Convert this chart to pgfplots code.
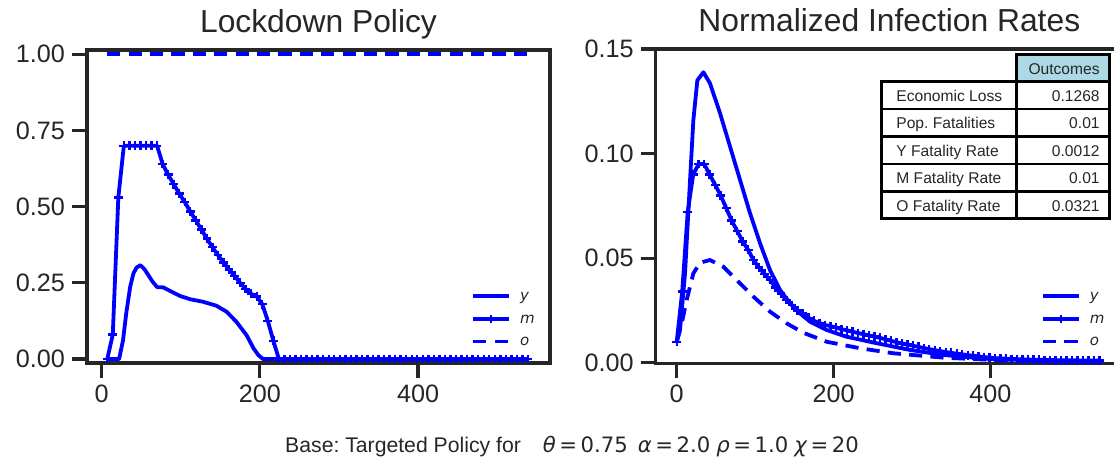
\documentclass[border=0pt]{standalone}
\usepackage{pgfplots}
\pgfplotsset{compat=1.18}
\usepackage{fontspec}
\setmainfont{Liberation Sans}
\newfontfamily\dvs{DejaVu Sans}
\definecolor{axgray}{HTML}{262626}
\definecolor{lblue}{HTML}{ADD8E6}
\frenchspacing
\pgfplotsset{
  myax/.style={
    scale only axis, anchor=south west,
    axis line style={draw=axgray, line width=1.6pt},
    tick align=outside,
    major tick length=7.5pt,
    tick style={draw=axgray, line width=1.6pt},
    xtick pos=left, ytick pos=left,
    tick label style={font=\fontsize{12.6}{15}\selectfont, text=axgray},
    /pgf/number format/assume math mode=true,
    yticklabel style={/pgf/number format/.cd, fixed, fixed zerofill, precision=2},
    xtick={0,200,400},
    title style={font=\fontsize{15.9}{19}\selectfont, text=axgray, anchor=base, at={(0.5,1)}, yshift=3pt},
    legend style={draw=none, fill=none, font=\dvs\itshape\fontsize{7.5}{9}\selectfont, text=axgray,
      inner sep=0pt, row sep=5pt, column sep=3.5pt, anchor=west,
      nodes={inner sep=1pt, text height=4.3pt, text depth=0pt}},
    legend cell align=left,
    legend image code/.code={\draw[mark repeat=2,mark phase=2,#1] plot coordinates {(0pt,0pt) (9pt,0pt) (18pt,0pt)};},
  },
  ys/.style={blue, line width=1.9pt, line join=round},
  ms/.style={blue, line width=1.9pt, line join=round, mark=+, mark size=2.2pt, mark options={solid, line width=1.2pt}},
  os/.style={blue, line width=1.9pt, dash pattern=on 6.6pt off 4.1pt},
}
\begin{document}
\begin{tikzpicture}
\path[use as bounding box, clip] (0,0) rectangle (557pt,228pt);
% ---------------- Left: Lockdown Policy ----------------
\begin{axis}[myax, at={(43.5pt,46.5pt)}, width=231.5pt, height=156.5pt,
  xmin=-18.6, xmax=566.8, ymin=-0.013, ymax=1.014,
  ytick={0,0.25,0.5,0.75,1},
  title={Lockdown Policy},
  legend style={at={(0.829,0.1406)}}]
\addplot[ys] coordinates {(7,0)(22,0)(27,0.062)(31,0.15)(36,0.237)(40,0.28)(44,0.30)(49,0.308)(54,0.295)(59,0.275)(64,0.255)(70,0.236)(78,0.235)(86,0.224)(99,0.207)(112,0.196)(128,0.188)(145,0.175)(158,0.155)(170,0.123)(183,0.079)(192,0.035)(198,0.013)(204,0)(539,0)};
\addlegendentry{y}
\addplot[ms] coordinates {(7,0)(14,0.08)(21,0.53)(28,0.70)(35,0.70)(42,0.70)(49,0.70)(56,0.70)(63,0.70)(70,0.70)(77,0.64)(84,0.605)(91,0.574)(98,0.543)(105,0.515)(112,0.484)(119,0.455)(126,0.425)(133,0.395)(140,0.367)(147,0.341)(154,0.317)(161,0.294)(168,0.273)(175,0.250)(182,0.230)(189,0.214)(196,0.205)(203,0.18)(210,0.125)(217,0.06)(224,0)(231,0)(238,0)(245,0)(252,0)(259,0)(266,0)(273,0)(280,0)(287,0)(294,0)(301,0)(308,0)(315,0)(322,0)(329,0)(336,0)(343,0)(350,0)(357,0)(364,0)(371,0)(378,0)(385,0)(392,0)(399,0)(406,0)(413,0)(420,0)(427,0)(434,0)(441,0)(448,0)(455,0)(462,0)(469,0)(476,0)(483,0)(490,0)(497,0)(504,0)(511,0)(518,0)(525,0)(532,0)(539,0)};
\addlegendentry{m}
\addplot[os] coordinates {(7,1)(539,1)};
\addlegendentry{o}
\end{axis}
% ---------------- Right: Normalized Infection Rates ----------------
\begin{axis}[myax, at={(327.85pt,46.35pt)}, width=233.65pt, height=157.15pt,
  xmin=-26.8, xmax=569, ymin=-0.0003, ymax=0.15,
  ytick={0,0.05,0.1,0.15},
  title={Normalized Infection Rates},
  legend style={at={(0.824,0.141)}}]
\addplot[ys] coordinates {(0,0.0100)(4.2,0.0156)(10.6,0.0427)(17,0.0874)(21.2,0.116)(26.3,0.135)(34,0.1389)(42.4,0.1336)(55.2,0.1193)(68,0.1033)(80.7,0.0874)(93.5,0.0714)(106.2,0.0571)(118.9,0.0443)(131.7,0.0348)(144.4,0.0284)(157.2,0.0236)(169.9,0.0196)(191.2,0.0156)(216.7,0.0124)(254.9,0.0093)(297.4,0.0061)(339.8,0.0037)(403.6,0.0016)(539.6,0.0005)};
\addlegendentry{y}
\addplot[ms] coordinates {(0,0.010)(7,0.034)(14,0.072)(21,0.090)(28,0.095)(35,0.095)(42,0.090)(49,0.085)(56,0.080)(63,0.074)(70,0.068)(77,0.063)(84,0.058)(91,0.054)(98,0.049)(105,0.0455)(112,0.0425)(119,0.0395)(126,0.036)(133,0.033)(140,0.030)(147,0.0275)(154,0.025)(161,0.0235)(168,0.0215)(175,0.020)(182,0.019)(189,0.018)(196,0.0175)(203,0.0168)(210,0.0160)(217,0.0155)(224,0.0148)(231,0.0142)(238,0.0136)(245,0.0130)(252,0.0125)(259,0.0119)(266,0.0112)(273,0.0105)(280,0.0098)(287,0.0092)(294,0.0087)(301,0.0081)(308,0.0076)(315,0.0070)(322,0.0065)(329,0.0060)(336,0.0055)(343,0.0051)(350,0.0047)(357,0.0043)(364,0.0040)(371,0.0036)(378,0.0033)(385,0.0030)(392,0.0027)(399,0.0024)(406,0.0022)(413,0.0020)(420,0.0019)(427,0.0018)(434,0.0017)(441,0.0016)(448,0.0015)(455,0.0014)(462,0.0014)(469,0.0013)(476,0.0013)(483,0.0012)(490,0.0012)(497,0.0011)(504,0.0011)(511,0.0011)(518,0.0010)(525,0.0010)(532,0.0010)(539,0.0010)};
\addlegendentry{m}
\addplot[os] coordinates {(0,0.010)(6.4,0.0188)(12.7,0.030)(21.2,0.0427)(29.7,0.0478)(42.4,0.0491)(59.4,0.0459)(76.5,0.0395)(97.7,0.0316)(118.9,0.0244)(140.2,0.0188)(161.4,0.0143)(191.2,0.0100)(233.7,0.0069)(276.1,0.0045)(339.8,0.0024)(403.6,0.0013)(539.6,0.0003)};
\addlegendentry{o}
\end{axis}
% ---------------- Outcomes table ----------------
\fill[lblue] (508.35pt,187.15pt) rectangle (554.65pt,200.85pt);
\begin{scope}[line width=1.35pt, black]
\draw (508.35pt,187.15pt) rectangle (554.65pt,200.85pt);
\draw (440.85pt,118.65pt) rectangle (554.65pt,187.15pt);
\draw (508.35pt,118.65pt) -- (508.35pt,187.15pt);
\draw (440.85pt,173.45pt) -- (554.65pt,173.45pt);
\draw (440.85pt,159.75pt) -- (554.65pt,159.75pt);
\draw (440.85pt,146.05pt) -- (554.65pt,146.05pt);
\draw (440.85pt,132.35pt) -- (554.65pt,132.35pt);
\end{scope}
\begin{scope}[every node/.style={inner sep=0pt, font=\fontsize{7.8}{9}\selectfont, text=axgray}]
\node[anchor=base east] at (550pt,190.95pt) {Outcomes};
\node[anchor=base west] at (448pt,177.25pt) {Economic Loss};
\node[anchor=base east] at (550pt,177.25pt) {0.1268};
\node[anchor=base west] at (448pt,163.55pt) {Pop. Fatalities};
\node[anchor=base east] at (550pt,163.55pt) {0.01};
\node[anchor=base west] at (448pt,149.85pt) {Y Fatality Rate};
\node[anchor=base east] at (550pt,149.85pt) {0.0012};
\node[anchor=base west] at (448pt,136.15pt) {M Fatality Rate};
\node[anchor=base east] at (550pt,136.15pt) {0.01};
\node[anchor=base west] at (448pt,122.45pt) {O Fatality Rate};
\node[anchor=base east] at (550pt,122.45pt) {0.0321};
\end{scope}
% ---------------- Caption ----------------
\node[anchor=base, inner sep=0pt, text=axgray, font=\fontsize{10.6}{12}\selectfont] at (286pt,2pt)
  {Base: Targeted Policy for\hspace{11pt}{\dvs{\itshape θ}\,=\,0.75\hspace{5pt}{\itshape α}\,=\,2.0\hspace{3pt}{\itshape ρ}\,=\,1.0\hspace{3pt}{\itshape χ}\,=\,20}};
\end{tikzpicture}
\end{document}
